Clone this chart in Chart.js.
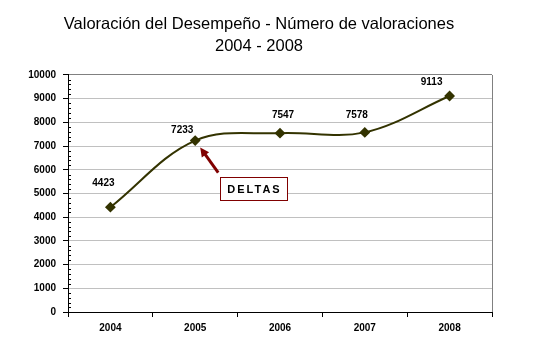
<!DOCTYPE html>
<html>
<head>
<meta charset="utf-8">
<script src="https://cdn.jsdelivr.net/npm/chart.js@4.4.1/dist/chart.umd.min.js"></script>
<style>
  html, body { margin: 0; padding: 0; background: #fff; }
  #wrap { width: 535px; height: 350px; }
</style>
</head>
<body>
<div id="wrap"><canvas id="chart"></canvas></div>
<script>
const years = ["2004", "2005", "2006", "2007", "2008"];
const valoraciones = [4423, 7233, 7547, 7578, 9113];
const titleLines = ["Valoración del Desempeño - Número de valoraciones", "2004 - 2008"];
const yMin = 0;
const yMax = 10000;
const yStep = 1000;
const yMinorStep = 200;

const lineColor = "#333300";
const noteColor = "#800000";
const fontFamily = "Arial, 'Liberation Sans', sans-serif";

// where each value label sits relative to its point
const labelOffsets = [[-7, -24], [-13, -10], [3, -18], [-8, -17], [-18, -14]];

// minor ticks on the value axis and the grey frame on the right
const framePlugin = {
  id: "frame",
  beforeDatasetsDraw(chart) {
    const { ctx, chartArea: a, scales: { y } } = chart;
    ctx.save();
    ctx.strokeStyle = "#808080";
    ctx.lineWidth = 1;
    ctx.beginPath();
    ctx.moveTo(Math.round(a.right) + 0.5, a.top);
    ctx.lineTo(Math.round(a.right) + 0.5, a.bottom);
    ctx.stroke();
    ctx.strokeStyle = "#000";
    ctx.beginPath();
    for (let v = yMin; v <= yMax; v += yMinorStep) {
      if (v % yStep === 0) continue;
      const py = Math.round(y.getPixelForValue(v)) + 0.5;
      ctx.moveTo(a.left, py);
      ctx.lineTo(a.left + 3, py);
    }
    ctx.stroke();
    ctx.restore();
  }
};

// value labels over the points
const valueLabels = {
  id: "valueLabels",
  afterDatasetsDraw(chart) {
    const { ctx } = chart;
    const meta = chart.getDatasetMeta(0);
    ctx.save();
    ctx.font = "bold 10px " + fontFamily;
    ctx.fillStyle = "#000";
    ctx.textAlign = "center";
    ctx.textBaseline = "middle";
    meta.data.forEach((pt, i) => {
      const [dx, dy] = labelOffsets[i];
      ctx.fillText(String(valoraciones[i]), pt.x + dx, pt.y + dy);
    });
    ctx.restore();
  }
};

// "DELTAS" note with an arrow pointing at 2005
const deltasNote = {
  id: "deltasNote",
  afterDatasetsDraw(chart) {
    const { ctx } = chart;
    const pt = chart.getDatasetMeta(0).data[1];
    const bx = Math.round(pt.x) + 25, by = Math.round(pt.y) + 36;
    const bw = 67, bh = 23;
    ctx.save();
    ctx.fillStyle = "#fff";
    ctx.fillRect(bx, by, bw, bh);
    ctx.strokeStyle = noteColor;
    ctx.lineWidth = 1;
    ctx.strokeRect(bx + 0.5, by + 0.5, bw, bh);
    ctx.fillStyle = "#000";
    ctx.font = "bold 11px " + fontFamily;
    ctx.letterSpacing = "2px";
    ctx.textAlign = "center";
    ctx.textBaseline = "middle";
    ctx.fillText("DELTAS", bx + bw / 2 + 1, by + bh / 2 + 1);

    const tipX = pt.x + 5, tipY = pt.y + 7;
    const tailX = pt.x + 23, tailY = pt.y + 32;
    const ang = Math.atan2(tipY - tailY, tipX - tailX);
    ctx.strokeStyle = noteColor;
    ctx.fillStyle = noteColor;
    ctx.lineWidth = 3;
    ctx.beginPath();
    ctx.moveTo(tailX, tailY);
    ctx.lineTo(tipX - 6 * Math.cos(ang), tipY - 6 * Math.sin(ang));
    ctx.stroke();
    ctx.beginPath();
    ctx.moveTo(tipX, tipY);
    ctx.lineTo(tipX - 9 * Math.cos(ang) + 4.5 * Math.sin(ang), tipY - 9 * Math.sin(ang) - 4.5 * Math.cos(ang));
    ctx.lineTo(tipX - 9 * Math.cos(ang) - 4.5 * Math.sin(ang), tipY - 9 * Math.sin(ang) + 4.5 * Math.cos(ang));
    ctx.closePath();
    ctx.fill();
    ctx.restore();
  }
};

new Chart(document.getElementById("chart"), {
  type: "line",
  data: {
    labels: years,
    datasets: [
      {
        data: valoraciones,
        borderColor: lineColor,
        borderWidth: 2,
        tension: 0.36,
        pointStyle: "rectRot",
        pointRadius: 4,
        pointBackgroundColor: lineColor,
        pointBorderColor: lineColor,
        fill: false,
      },
    ],
  },
  options: {
    responsive: true,
    maintainAspectRatio: false,
    animation: false,
    layout: {
      padding: { left: 26, right: 43, top: 0, bottom: 0 },
    },
    plugins: {
      legend: { display: false },
      tooltip: { enabled: false },
      title: {
        display: true,
        text: titleLines,
        color: "#000",
        font: { family: fontFamily, size: 16.5, weight: "normal", lineHeight: 1.333 },
        padding: { top: 13, bottom: 18 },
      },
    },
    scales: {
      x: {
        offset: true,
        grid: {
          offset: true,
          drawOnChartArea: false,
          tickLength: 5,
          tickColor: "#000",
        },
        border: { color: "#000", width: 1 },
        ticks: {
          color: "#000",
          padding: 5,
          font: { family: fontFamily, size: 10, weight: "bold" },
        },
        afterFit(scale) { scale.height = 38; },
      },
      y: {
        min: yMin,
        max: yMax,
        ticks: {
          stepSize: yStep,
          color: "#000",
          padding: 7,
          font: { family: fontFamily, size: 10, weight: "bold" },
          callback: (v) => String(v),
        },
        grid: {
          color: (c) => (c.tick && c.tick.value === yMax ? "#808080" : "#c0c0c0"),
          tickColor: "#000",
          tickLength: 5,
        },
        border: { color: "#000", width: 1 },
        afterFit(scale) { scale.width = 42; },
      },
    },
  },
  plugins: [framePlugin, valueLabels, deltasNote],
});
</script>
</body>
</html>
